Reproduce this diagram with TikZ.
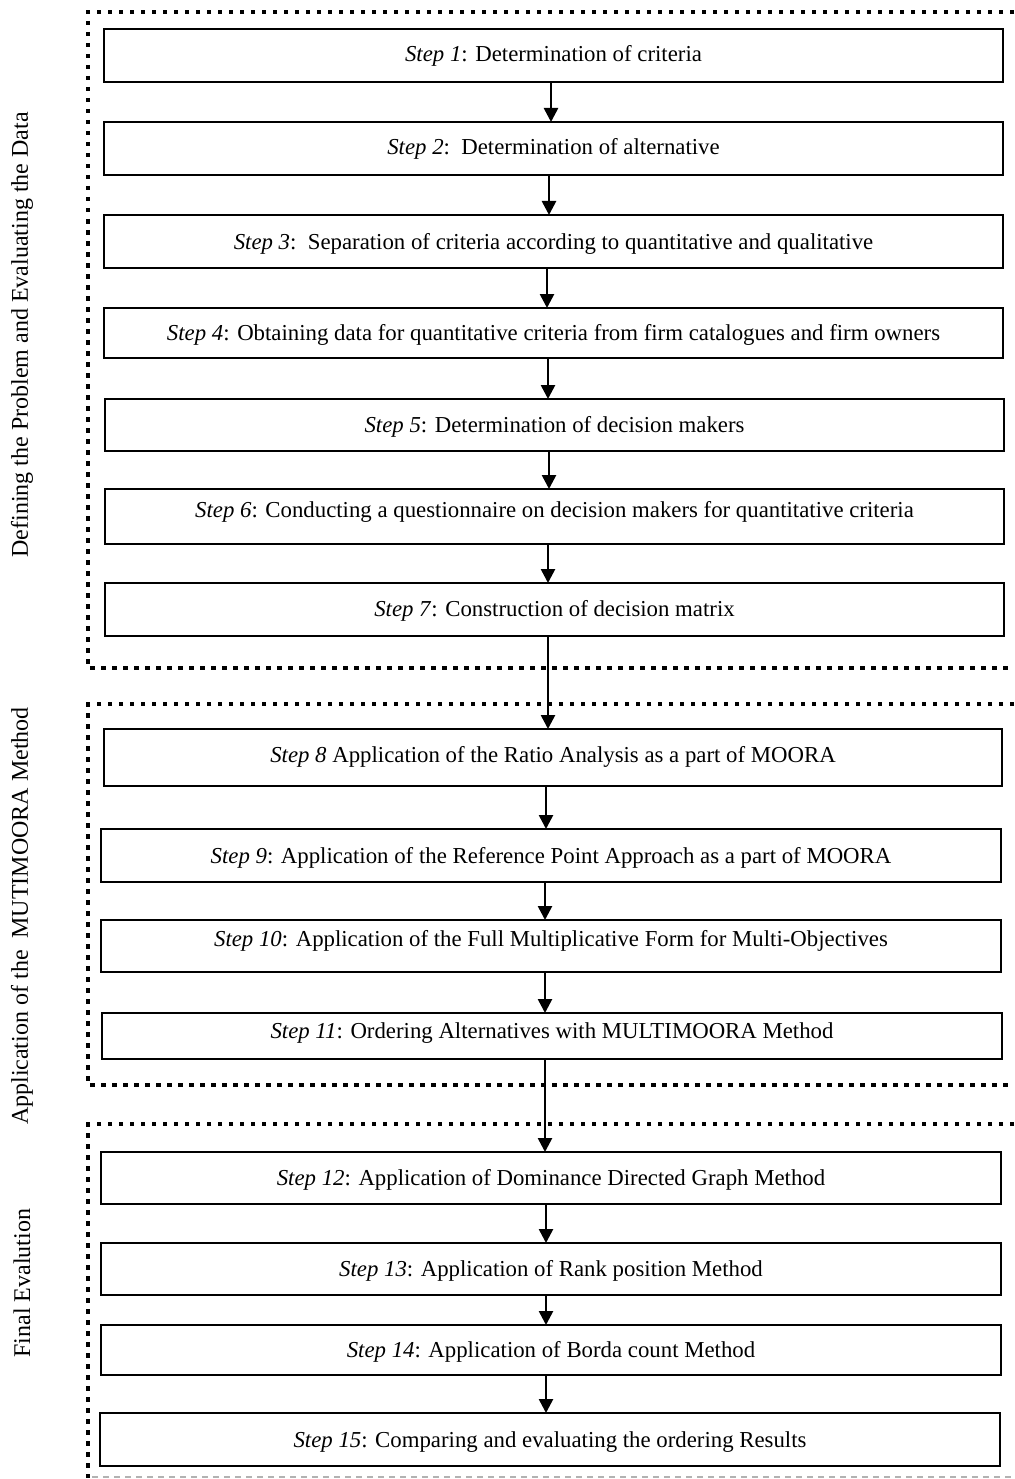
\documentclass[tikz,border=0pt]{standalone}
\usepackage{fontspec}
\setmainfont{Liberation Serif}
\usetikzlibrary{arrows.meta}
\begin{document}
\begin{tikzpicture}[x=1pt,y=-1pt,
  flow/.style={line width=2.6pt,-{Triangle[length=14pt,width=14pt]}},
  frame/.style={line width=4.5pt,dash pattern=on 4.5pt off 6.5pt},
  sidelabel/.style={rotate=90,font=\fontsize{24}{28}\selectfont}]
\useasboundingbox (0,0) rectangle (1014,1479);
% frames
\draw[frame] (1014,12) -- (88,12) -- (88,668) -- (1014,668);
\draw[frame] (1014,704) -- (88,704) -- (88,1085) -- (1014,1085);
\draw[frame] (1014,1124) -- (88,1124) -- (88,1478);
\draw[gray!60,line width=1.5pt,dash pattern=on 6pt off 5pt] (92,1477) -- (1014,1477);
% boxes: name, x1, y1, x2, y2, text centre y, arrow x, text
\newcommand{\stepnode}[8]{%
  \draw[line width=1.8pt] (#2,#3) rectangle (#4,#5);
  \node[font=\fontsize{22.8}{26}\selectfont,anchor=base] (#1) at ({(#2+#4)/2},#6+8) {#8};
  \coordinate (#1t) at (#7,#3);
  \coordinate (#1b) at (#7,#5);}
\stepnode{s1}{104}{29}{1003}{82}{54}{551}{\textit{Step 1}: Determination of criteria}
\stepnode{s2}{104}{122}{1003}{175}{147}{549}{\textit{Step 2}:\ \ Determination of alternative}
\stepnode{s3}{104}{215}{1003}{268}{241}{547}{\textit{Step 3}:\ \ Separation of criteria according to quantitative and qualitative}
\stepnode{s4}{104}{308}{1003}{358}{332}{548}{\textit{Step 4}: Obtaining data for quantitative criteria from firm catalogues and firm owners}
\stepnode{s5}{105}{399}{1004}{451}{424}{549}{\textit{Step 5}: Determination of decision makers}
\stepnode{s6}{105}{489}{1004}{544}{509}{548}{\textit{Step 6}: Conducting a questionnaire on decision makers for quantitative criteria}
\stepnode{s7}{105}{583}{1004}{636}{608}{548}{\textit{Step 7}: Construction of decision matrix}
\stepnode{s8}{104}{729}{1002}{786}{754}{546}{\textit{Step 8} Application of the Ratio Analysis as a part of MOORA}
\stepnode{s9}{101}{829}{1001}{882}{855}{545}{\textit{Step 9}: Application of the Reference Point Approach as a part of MOORA}
\stepnode{s10}{101}{920}{1001}{972}{938}{545}{\textit{Step 10}: Application of the Full Multiplicative Form for Multi-Objectives}
\stepnode{s11}{102}{1013}{1002}{1059}{1030}{545}{\textit{Step 11}: Ordering Alternatives with MULTIMOORA Method}
\stepnode{s12}{101}{1152}{1001}{1204}{1177}{546}{\textit{Step 12}: Application of Dominance Directed Graph Method}
\stepnode{s13}{101}{1243}{1001}{1295}{1268}{546}{\textit{Step 13}: Application of Rank position Method}
\stepnode{s14}{101}{1325}{1001}{1375}{1349}{546}{\textit{Step 14}: Application of Borda count Method}
\stepnode{s15}{100}{1413}{1000}{1466}{1439}{546}{\textit{Step 15}: Comparing and evaluating the ordering Results}
% arrows (vertical, starting at the upper box)
\draw[flow] (s1b) -- (s1b |- s2t);
\draw[flow] (s2b) -- (s2b |- s3t);
\draw[flow] (s3b) -- (s3b |- s4t);
\draw[flow] (s4b) -- (s4b |- s5t);
\draw[flow] (s5b) -- (s5b |- s6t);
\draw[flow] (s6b) -- (s6b |- s7t);
\draw[flow] (s7b) -- (s7b |- s8t);
\draw[flow] (s8b) -- (s8b |- s9t);
\draw[flow] (s9b) -- (s9b |- s10t);
\draw[flow] (s10b) -- (s10b |- s11t);
\draw[flow] (s11b) -- (s11b |- s12t);
\draw[flow] (s12b) -- (s12b |- s13t);
\draw[flow] (s13b) -- (s13b |- s14t);
\draw[flow] (s14b) -- (s14b |- s15t);
% side labels
\node[sidelabel] (l1) at (22,335) {Defining the Problem and Evaluating the Data};
\node[sidelabel] (l2) at (22,916) {Application of the\ \ MUTIMOORA Method};
\node[sidelabel] (l3) at (22,1283) {Final Evalution};
\end{tikzpicture}
\end{document}
